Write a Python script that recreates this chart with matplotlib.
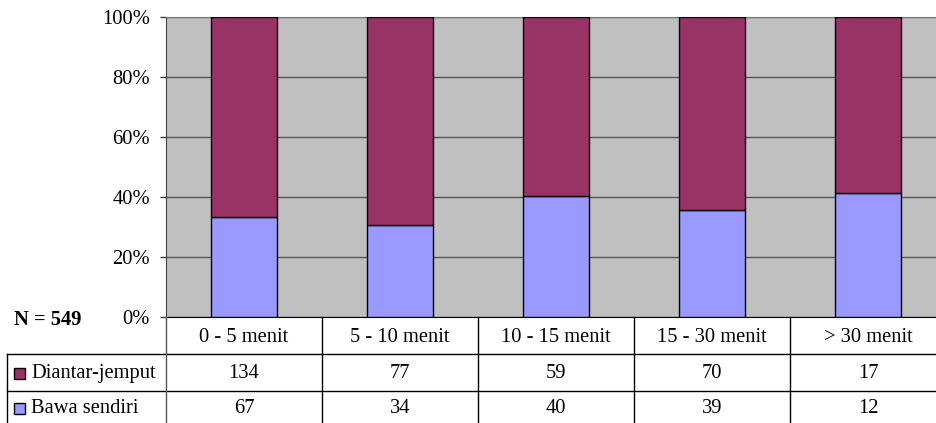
import matplotlib
matplotlib.use("Agg")
import matplotlib.pyplot as plt
from matplotlib.patches import Rectangle
import matplotlib.transforms as mtransforms

plt.rcParams['font.family'] = ['Liberation Serif', 'DejaVu Serif']

categories = ["0 - 5 menit", "5 - 10 menit", "10 - 15 menit", "15 - 30 menit", "> 30 menit"]
diantar = [134, 77, 59, 70, 17]
bawa = [67, 34, 40, 39, 12]
series_names = ["Diantar-jemput", "Bawa sendiri"]
colors = ["#993366", "#9999FF"]
yticks = [0, 20, 40, 60, 80, 100]
n_label = "N = 549"

FS = 14.8
W, H = 937, 423
fig = plt.figure(figsize=(W / 100, H / 100), dpi=100)

def fx(x):
    return x / W

def fy(y):
    return 1 - y / H

ax_left, ax_right, ax_top, ax_bot = 166, 946, 17, 317
ax = fig.add_axes([fx(ax_left), fy(ax_bot), (ax_right - ax_left) / W, (ax_bot - ax_top) / H])
ax.set_facecolor("#C0C0C0")

totals = [a + b for a, b in zip(diantar, bawa)]
p_bawa = [100 * b / t for b, t in zip(bawa, totals)]
p_diantar = [100 * a / t for a, t in zip(diantar, totals)]
xs = list(range(len(categories)))
ax.bar(xs, p_bawa, width=0.417, color=colors[1], edgecolor="black", linewidth=1.0, zorder=3)
ax.bar(xs, p_diantar, bottom=p_bawa, width=0.417, color=colors[0], edgecolor="black", linewidth=1.0, zorder=3)

ax.set_xlim(-0.5, len(categories) - 0.5)
ax.set_ylim(0, 100)
ax.set_yticks(yticks)
ax.set_yticklabels([f"{v}%" for v in yticks], fontsize=FS)
ax.set_xticks([])
ax.tick_params(axis='y', direction='out', length=4.5, width=1, color="#404040", pad=7)
ax.yaxis.grid(True, color="#555555", linewidth=1, zorder=1)
ax.set_axisbelow(True)
ax.spines["right"].set_visible(False)
ax.spines["top"].set_color("#777777")
ax.spines["left"].set_color("#444444")
ax.spines["bottom"].set_color("black")

# data table
trans = mtransforms.blended_transform_factory(ax.transData, fig.transFigure)
row_y = [317, 354, 391, 428]
lc = "black"
for y in row_y[1:3]:
    fig.add_artist(plt.Line2D([fx(7), 1.0], [fy(y), fy(y)], color=lc, lw=1, transform=fig.transFigure))
fig.add_artist(plt.Line2D([fx(7), fx(7)], [fy(354), fy(428)], color=lc, lw=1, transform=fig.transFigure))
for i in range(len(categories) + 1):
    xb = i - 0.5
    col = "#555555" if i == 0 else lc
    fig.add_artist(plt.Line2D([xb, xb], [fy(317), fy(428)], color=col, lw=1, transform=trans, clip_on=False))

for i, c in enumerate(categories):
    fig.text(i, fy((row_y[0] + row_y[1]) / 2 + 2), c, transform=trans, ha="center", va="center", fontsize=FS)
    fig.text(i, fy((row_y[1] + row_y[2]) / 2 + 1), str(diantar[i]), transform=trans, ha="center", va="center", fontsize=FS)
    fig.text(i, fy((row_y[2] + 423) / 2 + 1), str(bawa[i]), transform=trans, ha="center", va="center", fontsize=FS)

for r, (name, colr) in enumerate(zip(series_names, colors)):
    yc = (row_y[1] + row_y[2]) / 2 + 1 if r == 0 else (row_y[2] + 423) / 2 + 1
    fig.add_artist(Rectangle((fx(14), fy(yc + 5.5)), 11 / W, 11 / H, facecolor=colr,
                             edgecolor="black", lw=1, transform=fig.transFigure))
    fig.text(fx(31), fy(yc), name, ha="left", va="center", fontsize=FS)

fig.text(fx(14), fy(320), n_label, ha="left", va="center", fontsize=FS, fontweight="bold")

fig.savefig("out.png", dpi=100)
